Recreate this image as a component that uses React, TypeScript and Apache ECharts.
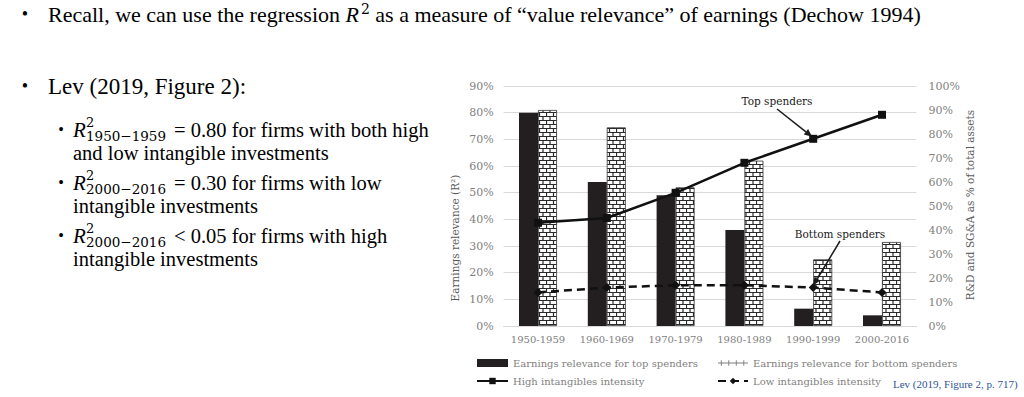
import React, { useEffect, useRef } from 'react';
import * as echarts from 'echarts';

const categories = ['1950-1959', '1960-1969', '1970-1979', '1980-1989', '1990-1999', '2000-2016'];
const topSpendersR2 = [80, 54, 49, 36, 6.5, 4];
const bottomSpendersR2 = [81, 74.5, 52, 62, 25, 31.5];
const highIntensity = [43, 45, 55.5, 68, 78, 88];
const lowIntensity = [14, 16, 17, 17, 16, 14];
const leftAxisMax = 90;
const rightAxisMax = 100;
const axisStep = 10;

const seriesNames = [
  'Earnings relevance for top spenders',
  'Earnings relevance for bottom spenders',
  'High intangibles intensity',
  'Low intangibles intensity',
];

const CH = '"DejaVu Serif", serif';
const TNR = '"Liberation Serif", "Times New Roman", serif';

function arrow(s: number[], e: number[]) {
  const dx = e[0] - s[0];
  const dy = e[1] - s[1];
  const L = Math.hypot(dx, dy);
  const ux = dx / L, uy = dy / L;
  const hl = 8, hw = 3.5;
  const bx = e[0] - ux * hl, by = e[1] - uy * hl;
  return [
    { type: 'line', z: 20, shape: { x1: s[0], y1: s[1], x2: bx, y2: by }, style: { stroke: '#1a1a1a', lineWidth: 1.5 } },
    {
      type: 'polygon', z: 20,
      shape: { points: [[e[0], e[1]], [bx - uy * hw, by + ux * hw], [bx + uy * hw, by - ux * hw]] },
      style: { fill: '#1a1a1a' },
    },
  ];
}

function txt(text: string, x: number, y: number, size: number, opts: any = {}) {
  return {
    type: 'text', x, y, z: 10, rotation: opts.rotation || 0,
    style: {
      text, fontSize: size, fontFamily: opts.family || TNR, fill: opts.fill || '#000',
      fontStyle: opts.italic ? 'italic' : 'normal', fontWeight: opts.weight || 'normal',
      align: opts.align || 'left', verticalAlign: 'middle',
      lineHeight: opts.lineHeight || Math.round(size * 1.1),
    },
  };
}

export default function App() {
  const ref = useRef<HTMLDivElement>(null);
  useEffect(() => {
    const el = ref.current!;
    const chart = echarts.init(el, null, { renderer: 'svg' });

    const cv = document.createElement('canvas');
    cv.width = 14; cv.height = 8;
    const ctx = cv.getContext('2d')!;
    ctx.fillStyle = '#ffffff';
    ctx.fillRect(0, 0, 14, 8);
    ctx.strokeStyle = '#2a2a2a';
    ctx.lineWidth = 1.2;
    ctx.beginPath();
    ctx.moveTo(0, 0.5); ctx.lineTo(14, 0.5);
    ctx.moveTo(0, 4.5); ctx.lineTo(14, 4.5);
    ctx.moveTo(0.5, 0); ctx.lineTo(0.5, 4.5);
    ctx.moveTo(7.5, 0); ctx.lineTo(7.5, 4.5);
    ctx.moveTo(4, 4.5); ctx.lineTo(4, 8);
    ctx.moveTo(11, 4.5); ctx.lineTo(11, 8);
    ctx.stroke();
    const brick: any = { image: cv, repeat: 'repeat', imageWidth: 14, imageHeight: 8 };

    const legendText = { fontFamily: CH, fontSize: 10, color: '#7f7f7f' };

    chart.setOption({
      animation: false,
      backgroundColor: '#ffffff',
      grid: { left: 503.6, right: 107.6, top: 86, bottom: 71 },
      legend: [
        {
          left: 476, top: 358, orient: 'vertical', padding: 0, itemWidth: 31, itemHeight: 8, itemGap: 8,
          textStyle: legendText,
          data: [
            { name: seriesNames[0], icon: 'rect' },
            { name: seriesNames[2] },
          ],
        },
        {
          left: 717, top: 358, orient: 'vertical', padding: 0, itemWidth: 30, itemHeight: 8, itemGap: 8,
          textStyle: legendText,
          data: [
            {
              name: seriesNames[1],
              icon: 'path://M0,4.5h32v1h-32z M3,2h1v6h-1z M11,2h1v6h-1z M19,2h1v6h-1z M27,2h1v6h-1z',
              itemStyle: { color: '#7f7f7f', borderWidth: 0 },
            },
            { name: seriesNames[3] },
          ],
        },
      ],
      xAxis: {
        type: 'category',
        data: categories,
        axisLine: { lineStyle: { color: '#d9d9d9' } },
        axisTick: { show: false },
        axisLabel: { color: '#7f7f7f', fontFamily: CH, fontSize: 10, margin: 8, interval: 0 },
      },
      yAxis: [
        {
          type: 'value', min: 0, max: leftAxisMax, interval: axisStep,
          axisLine: { show: false }, axisTick: { show: false },
          splitLine: { lineStyle: { color: '#d9d9d9', width: 1 } },
          axisLabel: { formatter: '{value}%', color: '#7f7f7f', fontFamily: CH, fontSize: 11, margin: 10 },
        },
        {
          type: 'value', min: 0, max: rightAxisMax, interval: axisStep, position: 'right',
          axisLine: { show: false }, axisTick: { show: false }, splitLine: { show: false },
          axisLabel: { formatter: '{value}%', color: '#7f7f7f', fontFamily: CH, fontSize: 11, margin: 12 },
        },
      ],
      series: [
        {
          name: seriesNames[0], type: 'bar', data: topSpendersR2, barWidth: 19, barGap: '0%',
          itemStyle: { color: '#231f20' },
        },
        {
          name: seriesNames[1], type: 'bar', data: bottomSpendersR2, barWidth: 19,
          itemStyle: { color: brick, borderColor: '#333333', borderWidth: 0.8 },
        },
        {
          name: seriesNames[2], type: 'line', yAxisIndex: 1, data: highIntensity,
          symbol: 'rect', symbolSize: 8, z: 5,
          lineStyle: { color: '#111111', width: 2.5 }, itemStyle: { color: '#111111' },
        },
        {
          name: seriesNames[3], type: 'line', yAxisIndex: 1, data: lowIntensity,
          symbol: 'diamond', symbolSize: 9, z: 5,
          lineStyle: { color: '#111111', width: 2.5, type: [8, 5] }, itemStyle: { color: '#111111' },
        },
      ],
    });

    const pTop = chart.convertToPixel({ xAxisIndex: 0, yAxisIndex: 1 }, [categories[4], highIntensity[4]]) as number[];
    const pBot = chart.convertToPixel({ xAxisIndex: 0, yAxisIndex: 1 }, [categories[4], lowIntensity[4]]) as number[];

    const mathLine = (y: number, sub: string, rest: string) => [
      txt('•', 61, y - 1, 16, { align: 'center', lineHeight: 14 }),
      txt('R', 73, y, 21, { italic: true, lineHeight: 20 }),
      txt('2', 86, y - 8, 13, { family: CH, lineHeight: 12 }),
      txt(sub, 86, y + 6, 13.5, { family: CH, lineHeight: 13 }),
      txt(rest, 174, y, 20.5, { lineHeight: 20 }),
    ];

    const graphics: any[] = [
      txt('•', 25, 14, 18, { align: 'center' }),
      {
        type: 'text', x: 48, y: 14, z: 10,
        style: {
          text: '{n|Recall, we can use the regression }{i|R}{s|2}{n| as a measure of “value relevance” of earnings (Dechow 1994)}',
          fontFamily: TNR, fontSize: 22, fill: '#000', align: 'left', verticalAlign: 'middle',
          rich: {
            n: { fontFamily: TNR, fontSize: 22, lineHeight: 24, verticalAlign: 'middle' },
            i: { fontFamily: TNR, fontSize: 22, lineHeight: 24, fontStyle: 'italic', verticalAlign: 'middle' },
            s: { fontFamily: CH, fontSize: 14, lineHeight: 14, verticalAlign: 'top', padding: [0, 0, 0, 2] },
          },
        },
      },
      txt('•', 25, 86, 18, { align: 'center' }),
      txt('Lev (2019, Figure 2):', 48, 86, 23),
      ...mathLine(130, '1950−1959', '= 0.80 for firms with both high'),
      txt('and low intangible investments', 73, 153, 20.5, { lineHeight: 20 }),
      ...mathLine(183, '2000−2016', '= 0.30 for firms with low'),
      txt('intangible investments', 73, 206, 20.5, { lineHeight: 20 }),
      ...mathLine(236, '2000−2016', '< 0.05 for firms with high'),
      txt('intangible investments', 73, 259, 20.5, { lineHeight: 20 }),
      txt('Earnings relevance (R²)', 455, 238, 10.5, { family: CH, fill: '#595959', align: 'center', rotation: Math.PI / 2 }),
      txt('R&D and SG&A as % of total assets', 970, 205, 10.5, { family: CH, fill: '#595959', align: 'center', rotation: Math.PI / 2 }),
      txt('Top spenders', 777, 101, 10.5, { family: CH, fill: '#1a1a1a', align: 'center' }),
      txt('Bottom spenders', 840, 234, 10.5, { family: CH, fill: '#1a1a1a', align: 'center' }),
      ...arrow([777, 109], [pTop[0] - 1, pTop[1] - 2]),
      ...arrow([840, 241], [pBot[0], pBot[1] - 2]),
      txt('Lev (2019, Figure 2, p. 717)', 893, 384, 11, { fill: '#2f5597' }),
    ];

    chart.setOption({ graphic: graphics });

    return () => chart.dispose();
  }, []);

  return <div ref={ref} style={{ position: 'fixed', left: 0, top: 0, width: 1024, height: 397 }} />;
}
